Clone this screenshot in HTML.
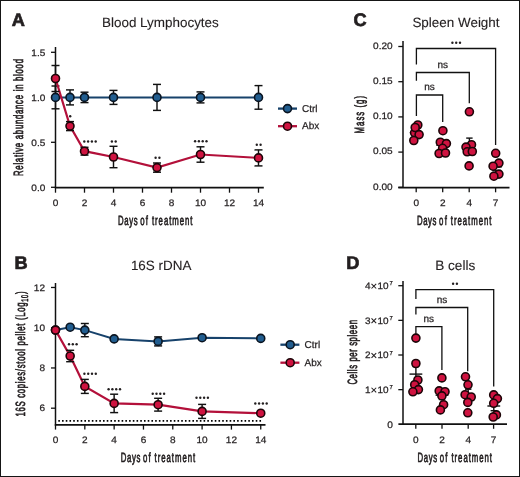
<!DOCTYPE html>
<html><head><meta charset="utf-8"><style>
html,body{margin:0;padding:0;background:#fff;}
#fig{position:relative;width:520px;height:477px;overflow:hidden;box-sizing:border-box;border:1px solid #151515;background:#fff;}
svg{position:absolute;left:-1px;top:-1px;will-change:transform;}
text{font-family:"Liberation Sans",sans-serif;stroke:#231f20;stroke-width:0.25px;text-rendering:geometricPrecision;}
</style></head><body><div id="fig">
<svg width="520" height="477" viewBox="0 0 520 477">
<text x="11.8" y="26.3" font-size="18.2" text-anchor="start" font-weight="bold" fill="#231f20" style="stroke-width:0.7px">A</text>
<text x="102.0" y="27" font-size="13.45" text-anchor="start" font-weight="normal" fill="#231f20" style="stroke-width:0.12px">Blood Lymphocytes</text>
<line x1="55.5" y1="47" x2="55.5" y2="188" stroke="#111111" stroke-width="1.5" />
<line x1="54.8" y1="187.6" x2="263.8" y2="187.6" stroke="#111111" stroke-width="1.8" />
<line x1="51" y1="52.30000000000001" x2="55.5" y2="52.30000000000001" stroke="#111111" stroke-width="1.3" />
<text transform="translate(45.3,55.500000000000014) scale(1.07,1)" font-size="9.4" text-anchor="end" fill="#231f20" stroke-width="0">1.5</text>
<line x1="51" y1="97.30000000000001" x2="55.5" y2="97.30000000000001" stroke="#111111" stroke-width="1.3" />
<text transform="translate(45.3,100.50000000000001) scale(1.07,1)" font-size="9.4" text-anchor="end" fill="#231f20" stroke-width="0">1.0</text>
<line x1="51" y1="142.3" x2="55.5" y2="142.3" stroke="#111111" stroke-width="1.3" />
<text transform="translate(45.3,145.5) scale(1.07,1)" font-size="9.4" text-anchor="end" fill="#231f20" stroke-width="0">0.5</text>
<line x1="51" y1="187.3" x2="55.5" y2="187.3" stroke="#111111" stroke-width="1.3" />
<text transform="translate(45.3,190.5) scale(1.07,1)" font-size="9.4" text-anchor="end" fill="#231f20" stroke-width="0">0.0</text>
<line x1="55.5" y1="187.5" x2="55.5" y2="192.7" stroke="#111111" stroke-width="1.3" />
<text transform="translate(55.5,205.5) scale(1.07,1)" font-size="9.4" text-anchor="middle" fill="#231f20" stroke-width="0">0</text>
<line x1="84.5" y1="187.5" x2="84.5" y2="192.7" stroke="#111111" stroke-width="1.3" />
<text transform="translate(84.5,205.5) scale(1.07,1)" font-size="9.4" text-anchor="middle" fill="#231f20" stroke-width="0">2</text>
<line x1="113.5" y1="187.5" x2="113.5" y2="192.7" stroke="#111111" stroke-width="1.3" />
<text transform="translate(113.5,205.5) scale(1.07,1)" font-size="9.4" text-anchor="middle" fill="#231f20" stroke-width="0">4</text>
<line x1="142.5" y1="187.5" x2="142.5" y2="192.7" stroke="#111111" stroke-width="1.3" />
<text transform="translate(142.5,205.5) scale(1.07,1)" font-size="9.4" text-anchor="middle" fill="#231f20" stroke-width="0">6</text>
<line x1="171.5" y1="187.5" x2="171.5" y2="192.7" stroke="#111111" stroke-width="1.3" />
<text transform="translate(171.5,205.5) scale(1.07,1)" font-size="9.4" text-anchor="middle" fill="#231f20" stroke-width="0">8</text>
<line x1="200.5" y1="187.5" x2="200.5" y2="192.7" stroke="#111111" stroke-width="1.3" />
<text transform="translate(200.5,205.5) scale(1.07,1)" font-size="9.4" text-anchor="middle" fill="#231f20" stroke-width="0">10</text>
<line x1="229.5" y1="187.5" x2="229.5" y2="192.7" stroke="#111111" stroke-width="1.3" />
<text transform="translate(229.5,205.5) scale(1.07,1)" font-size="9.4" text-anchor="middle" fill="#231f20" stroke-width="0">12</text>
<line x1="258.5" y1="187.5" x2="258.5" y2="192.7" stroke="#111111" stroke-width="1.3" />
<text transform="translate(258.5,205.5) scale(1.07,1)" font-size="9.4" text-anchor="middle" fill="#231f20" stroke-width="0">14</text>
<text transform="translate(118.0,224.6) scale(0.58,1)" font-size="13.4" fill="#231f20" textLength="33.79" lengthAdjust="spacing" style="stroke-width:0.7px">Days</text>
<text transform="translate(140.2,224.6) scale(0.58,1)" font-size="13.4" fill="#231f20" textLength="13.28" lengthAdjust="spacing" style="stroke-width:0.7px">of</text>
<text transform="translate(151.9,224.6) scale(0.58,1)" font-size="13.4" fill="#231f20" textLength="70.00" lengthAdjust="spacing" style="stroke-width:0.7px">treatment</text>
<text transform="translate(23,117.5) rotate(-90) scale(0.58,1)" x="0" y="0" font-size="13.4" text-anchor="middle" fill="#231f20" textLength="201.72" lengthAdjust="spacing" style="stroke-width:0.7px">Relative abundance in blood</text>
<polyline points="55.5,97.4 70.0,97.4 84.5,97.4 113.5,97.4 157.0,97.4 200.5,97.4 258.5,97.4" fill="none" stroke="#17426b" stroke-width="2.0"/>
<line x1="55.5" y1="86.0" x2="55.5" y2="108.80000000000001" stroke="#111111" stroke-width="1.45" />
<line x1="51.5" y1="86.0" x2="59.5" y2="86.0" stroke="#111111" stroke-width="1.45" />
<line x1="51.5" y1="108.80000000000001" x2="59.5" y2="108.80000000000001" stroke="#111111" stroke-width="1.45" />
<line x1="70.0" y1="89.9" x2="70.0" y2="104.9" stroke="#111111" stroke-width="1.45" />
<line x1="66.0" y1="89.9" x2="74.0" y2="89.9" stroke="#111111" stroke-width="1.45" />
<line x1="66.0" y1="104.9" x2="74.0" y2="104.9" stroke="#111111" stroke-width="1.45" />
<line x1="84.5" y1="92.2" x2="84.5" y2="102.60000000000001" stroke="#111111" stroke-width="1.45" />
<line x1="80.5" y1="92.2" x2="88.5" y2="92.2" stroke="#111111" stroke-width="1.45" />
<line x1="80.5" y1="102.60000000000001" x2="88.5" y2="102.60000000000001" stroke="#111111" stroke-width="1.45" />
<line x1="113.5" y1="90.4" x2="113.5" y2="104.4" stroke="#111111" stroke-width="1.45" />
<line x1="109.5" y1="90.4" x2="117.5" y2="90.4" stroke="#111111" stroke-width="1.45" />
<line x1="109.5" y1="104.4" x2="117.5" y2="104.4" stroke="#111111" stroke-width="1.45" />
<line x1="157.0" y1="84.4" x2="157.0" y2="110.4" stroke="#111111" stroke-width="1.45" />
<line x1="153.0" y1="84.4" x2="161.0" y2="84.4" stroke="#111111" stroke-width="1.45" />
<line x1="153.0" y1="110.4" x2="161.0" y2="110.4" stroke="#111111" stroke-width="1.45" />
<line x1="200.5" y1="91.9" x2="200.5" y2="102.9" stroke="#111111" stroke-width="1.45" />
<line x1="196.5" y1="91.9" x2="204.5" y2="91.9" stroke="#111111" stroke-width="1.45" />
<line x1="196.5" y1="102.9" x2="204.5" y2="102.9" stroke="#111111" stroke-width="1.45" />
<line x1="258.5" y1="85.60000000000001" x2="258.5" y2="109.2" stroke="#111111" stroke-width="1.45" />
<line x1="254.5" y1="85.60000000000001" x2="262.5" y2="85.60000000000001" stroke="#111111" stroke-width="1.45" />
<line x1="254.5" y1="109.2" x2="262.5" y2="109.2" stroke="#111111" stroke-width="1.45" />
<circle cx="55.5" cy="97.4" r="4.0" fill="#215d8f" stroke="#0a1420" stroke-width="1.6"/>
<circle cx="70.0" cy="97.4" r="4.0" fill="#215d8f" stroke="#0a1420" stroke-width="1.6"/>
<circle cx="84.5" cy="97.4" r="4.0" fill="#215d8f" stroke="#0a1420" stroke-width="1.6"/>
<circle cx="113.5" cy="97.4" r="4.0" fill="#215d8f" stroke="#0a1420" stroke-width="1.6"/>
<circle cx="157.0" cy="97.4" r="4.0" fill="#215d8f" stroke="#0a1420" stroke-width="1.6"/>
<circle cx="200.5" cy="97.4" r="4.0" fill="#215d8f" stroke="#0a1420" stroke-width="1.6"/>
<circle cx="258.5" cy="97.4" r="4.0" fill="#215d8f" stroke="#0a1420" stroke-width="1.6"/>
<polyline points="55.5,78.5 70.0,126.1 84.5,151.2 113.5,157 157.0,167.6 200.5,154.5 258.5,157.9" fill="none" stroke="#b3103a" stroke-width="2.2"/>
<line x1="55.5" y1="65.5" x2="55.5" y2="91.5" stroke="#111111" stroke-width="1.45" />
<line x1="51.5" y1="65.5" x2="59.5" y2="65.5" stroke="#111111" stroke-width="1.45" />
<line x1="51.5" y1="91.5" x2="59.5" y2="91.5" stroke="#111111" stroke-width="1.45" />
<line x1="70.0" y1="121.6" x2="70.0" y2="130.6" stroke="#111111" stroke-width="1.45" />
<line x1="66.0" y1="121.6" x2="74.0" y2="121.6" stroke="#111111" stroke-width="1.45" />
<line x1="66.0" y1="130.6" x2="74.0" y2="130.6" stroke="#111111" stroke-width="1.45" />
<line x1="84.5" y1="147.29999999999998" x2="84.5" y2="155.1" stroke="#111111" stroke-width="1.45" />
<line x1="80.5" y1="147.29999999999998" x2="88.5" y2="147.29999999999998" stroke="#111111" stroke-width="1.45" />
<line x1="80.5" y1="155.1" x2="88.5" y2="155.1" stroke="#111111" stroke-width="1.45" />
<line x1="113.5" y1="146.3" x2="113.5" y2="167.7" stroke="#111111" stroke-width="1.45" />
<line x1="109.5" y1="146.3" x2="117.5" y2="146.3" stroke="#111111" stroke-width="1.45" />
<line x1="109.5" y1="167.7" x2="117.5" y2="167.7" stroke="#111111" stroke-width="1.45" />
<line x1="157.0" y1="163.0" x2="157.0" y2="172.2" stroke="#111111" stroke-width="1.45" />
<line x1="153.0" y1="163.0" x2="161.0" y2="163.0" stroke="#111111" stroke-width="1.45" />
<line x1="153.0" y1="172.2" x2="161.0" y2="172.2" stroke="#111111" stroke-width="1.45" />
<line x1="200.5" y1="146.8" x2="200.5" y2="162.2" stroke="#111111" stroke-width="1.45" />
<line x1="196.5" y1="146.8" x2="204.5" y2="146.8" stroke="#111111" stroke-width="1.45" />
<line x1="196.5" y1="162.2" x2="204.5" y2="162.2" stroke="#111111" stroke-width="1.45" />
<line x1="258.5" y1="149.9" x2="258.5" y2="165.9" stroke="#111111" stroke-width="1.45" />
<line x1="254.5" y1="149.9" x2="262.5" y2="149.9" stroke="#111111" stroke-width="1.45" />
<line x1="254.5" y1="165.9" x2="262.5" y2="165.9" stroke="#111111" stroke-width="1.45" />
<circle cx="55.5" cy="78.5" r="4.0" fill="#cf1340" stroke="#1c0508" stroke-width="1.6"/>
<circle cx="70.0" cy="126.1" r="4.0" fill="#cf1340" stroke="#1c0508" stroke-width="1.6"/>
<circle cx="84.5" cy="151.2" r="4.0" fill="#cf1340" stroke="#1c0508" stroke-width="1.6"/>
<circle cx="113.5" cy="157" r="4.0" fill="#cf1340" stroke="#1c0508" stroke-width="1.6"/>
<circle cx="157.0" cy="167.6" r="4.0" fill="#cf1340" stroke="#1c0508" stroke-width="1.6"/>
<circle cx="200.5" cy="154.5" r="4.0" fill="#cf1340" stroke="#1c0508" stroke-width="1.6"/>
<circle cx="258.5" cy="157.9" r="4.0" fill="#cf1340" stroke="#1c0508" stroke-width="1.6"/>
<circle cx="70.20" cy="116.2" r="1.2" fill="#231f20"/>
<circle cx="84.30" cy="141.5" r="1.2" fill="#231f20"/>
<circle cx="88.10" cy="141.5" r="1.2" fill="#231f20"/>
<circle cx="91.90" cy="141.5" r="1.2" fill="#231f20"/>
<circle cx="95.70" cy="141.5" r="1.2" fill="#231f20"/>
<circle cx="111.90" cy="141.5" r="1.2" fill="#231f20"/>
<circle cx="115.70" cy="141.5" r="1.2" fill="#231f20"/>
<circle cx="155.60" cy="157.7" r="1.2" fill="#231f20"/>
<circle cx="159.40" cy="157.7" r="1.2" fill="#231f20"/>
<circle cx="195.10" cy="141.3" r="1.2" fill="#231f20"/>
<circle cx="198.90" cy="141.3" r="1.2" fill="#231f20"/>
<circle cx="202.70" cy="141.3" r="1.2" fill="#231f20"/>
<circle cx="206.50" cy="141.3" r="1.2" fill="#231f20"/>
<circle cx="256.80" cy="144.7" r="1.2" fill="#231f20"/>
<circle cx="260.60" cy="144.7" r="1.2" fill="#231f20"/>
<line x1="278" y1="108.6" x2="297" y2="108.6" stroke="#17426b" stroke-width="2.3" />
<circle cx="287.5" cy="108.6" r="4.0" fill="#215d8f" stroke="#0a1420" stroke-width="1.6"/>
<text x="302" y="111.5" font-size="10" text-anchor="start" font-weight="normal" fill="#231f20" >Ctrl</text>
<line x1="278" y1="126.2" x2="297" y2="126.2" stroke="#b3103a" stroke-width="2.3" />
<circle cx="287.5" cy="126.2" r="4.0" fill="#cf1340" stroke="#1c0508" stroke-width="1.6"/>
<text x="302" y="129.4" font-size="10" text-anchor="start" font-weight="normal" fill="#231f20" >Abx</text>
<text x="14.6" y="269.0" font-size="18.2" text-anchor="start" font-weight="bold" fill="#231f20" style="stroke-width:0.7px">B</text>
<text x="130.9" y="269.7" font-size="13.45" text-anchor="start" font-weight="normal" fill="#231f20" style="stroke-width:0.12px">16S rDNA</text>
<line x1="55.5" y1="283" x2="55.5" y2="425.5" stroke="#111111" stroke-width="1.5" />
<line x1="54.8" y1="424.8" x2="265.5" y2="424.8" stroke="#111111" stroke-width="1.8" />
<line x1="51" y1="287.48" x2="55.5" y2="287.48" stroke="#111111" stroke-width="1.3" />
<text transform="translate(45,290.58000000000004) scale(1.07,1)" font-size="9.4" text-anchor="end" fill="#231f20" stroke-width="0">12</text>
<line x1="51" y1="327.71999999999997" x2="55.5" y2="327.71999999999997" stroke="#111111" stroke-width="1.3" />
<text transform="translate(45,330.82) scale(1.07,1)" font-size="9.4" text-anchor="end" fill="#231f20" stroke-width="0">10</text>
<line x1="51" y1="367.96" x2="55.5" y2="367.96" stroke="#111111" stroke-width="1.3" />
<text transform="translate(45,371.06) scale(1.07,1)" font-size="9.4" text-anchor="end" fill="#231f20" stroke-width="0">8</text>
<line x1="51" y1="408.2" x2="55.5" y2="408.2" stroke="#111111" stroke-width="1.3" />
<text transform="translate(45,411.3) scale(1.07,1)" font-size="9.4" text-anchor="end" fill="#231f20" stroke-width="0">6</text>
<line x1="55.5" y1="424.8" x2="55.5" y2="429.6" stroke="#111111" stroke-width="1.3" />
<text transform="translate(55.5,443.4) scale(1.07,1)" font-size="9.4" text-anchor="middle" fill="#231f20" stroke-width="0">0</text>
<line x1="84.82" y1="424.8" x2="84.82" y2="429.6" stroke="#111111" stroke-width="1.3" />
<text transform="translate(84.82,443.4) scale(1.07,1)" font-size="9.4" text-anchor="middle" fill="#231f20" stroke-width="0">2</text>
<line x1="114.14" y1="424.8" x2="114.14" y2="429.6" stroke="#111111" stroke-width="1.3" />
<text transform="translate(114.14,443.4) scale(1.07,1)" font-size="9.4" text-anchor="middle" fill="#231f20" stroke-width="0">4</text>
<line x1="143.46" y1="424.8" x2="143.46" y2="429.6" stroke="#111111" stroke-width="1.3" />
<text transform="translate(143.46,443.4) scale(1.07,1)" font-size="9.4" text-anchor="middle" fill="#231f20" stroke-width="0">6</text>
<line x1="172.78" y1="424.8" x2="172.78" y2="429.6" stroke="#111111" stroke-width="1.3" />
<text transform="translate(172.78,443.4) scale(1.07,1)" font-size="9.4" text-anchor="middle" fill="#231f20" stroke-width="0">8</text>
<line x1="202.1" y1="424.8" x2="202.1" y2="429.6" stroke="#111111" stroke-width="1.3" />
<text transform="translate(202.1,443.4) scale(1.07,1)" font-size="9.4" text-anchor="middle" fill="#231f20" stroke-width="0">10</text>
<line x1="231.42000000000002" y1="424.8" x2="231.42000000000002" y2="429.6" stroke="#111111" stroke-width="1.3" />
<text transform="translate(231.42000000000002,443.4) scale(1.07,1)" font-size="9.4" text-anchor="middle" fill="#231f20" stroke-width="0">12</text>
<line x1="260.74" y1="424.8" x2="260.74" y2="429.6" stroke="#111111" stroke-width="1.3" />
<text transform="translate(260.74,443.4) scale(1.07,1)" font-size="9.4" text-anchor="middle" fill="#231f20" stroke-width="0">14</text>
<line x1="58.3" y1="420.9" x2="261.2" y2="420.9" stroke="#000" stroke-width="1.7" stroke-dasharray="1.6 2.125"/>
<text transform="translate(120.7,462.4) scale(0.58,1)" font-size="13.4" fill="#231f20" textLength="33.79" lengthAdjust="spacing" style="stroke-width:0.7px">Days</text>
<text transform="translate(142.9,462.4) scale(0.58,1)" font-size="13.4" fill="#231f20" textLength="13.28" lengthAdjust="spacing" style="stroke-width:0.7px">of</text>
<text transform="translate(154.6,462.4) scale(0.58,1)" font-size="13.4" fill="#231f20" textLength="70.00" lengthAdjust="spacing" style="stroke-width:0.7px">treatment</text>
<text transform="translate(25,354) rotate(-90) scale(0.58,1)" font-size="13.4" text-anchor="middle" fill="#231f20" textLength="215.52" lengthAdjust="spacing" style="stroke-width:0.7px">16S copies/stool pellet (Log<tspan font-size="9.6" dy="2.6">10</tspan><tspan dy="-2.6">)</tspan></text>
<polyline points="55.5,330 70.16,327.2 84.82,330.1 114.14,338.9 158.12,341.4 202.1,337.7 260.74,338.4" fill="none" stroke="#17426b" stroke-width="2.0"/>
<line x1="84.82" y1="323.5" x2="84.82" y2="336.70000000000005" stroke="#111111" stroke-width="1.45" />
<line x1="80.82" y1="323.5" x2="88.82" y2="323.5" stroke="#111111" stroke-width="1.45" />
<line x1="80.82" y1="336.70000000000005" x2="88.82" y2="336.70000000000005" stroke="#111111" stroke-width="1.45" />
<line x1="158.12" y1="336.9" x2="158.12" y2="345.9" stroke="#111111" stroke-width="1.45" />
<line x1="154.12" y1="336.9" x2="162.12" y2="336.9" stroke="#111111" stroke-width="1.45" />
<line x1="154.12" y1="345.9" x2="162.12" y2="345.9" stroke="#111111" stroke-width="1.45" />
<circle cx="55.5" cy="330" r="4.0" fill="#215d8f" stroke="#0a1420" stroke-width="1.6"/>
<circle cx="70.16" cy="327.2" r="4.0" fill="#215d8f" stroke="#0a1420" stroke-width="1.6"/>
<circle cx="84.82" cy="330.1" r="4.0" fill="#215d8f" stroke="#0a1420" stroke-width="1.6"/>
<circle cx="114.14" cy="338.9" r="4.0" fill="#215d8f" stroke="#0a1420" stroke-width="1.6"/>
<circle cx="158.12" cy="341.4" r="4.0" fill="#215d8f" stroke="#0a1420" stroke-width="1.6"/>
<circle cx="202.1" cy="337.7" r="4.0" fill="#215d8f" stroke="#0a1420" stroke-width="1.6"/>
<circle cx="260.74" cy="338.4" r="4.0" fill="#215d8f" stroke="#0a1420" stroke-width="1.6"/>
<polyline points="55.5,330.1 70.16,356 84.82,386.4 114.14,403.4 158.12,404.7 202.1,411.4 260.74,413.2" fill="none" stroke="#b3103a" stroke-width="2.2"/>
<line x1="70.16" y1="350.3" x2="70.16" y2="361.7" stroke="#111111" stroke-width="1.45" />
<line x1="66.16" y1="350.3" x2="74.16" y2="350.3" stroke="#111111" stroke-width="1.45" />
<line x1="66.16" y1="361.7" x2="74.16" y2="361.7" stroke="#111111" stroke-width="1.45" />
<line x1="84.82" y1="379.4" x2="84.82" y2="393.4" stroke="#111111" stroke-width="1.45" />
<line x1="80.82" y1="379.4" x2="88.82" y2="379.4" stroke="#111111" stroke-width="1.45" />
<line x1="80.82" y1="393.4" x2="88.82" y2="393.4" stroke="#111111" stroke-width="1.45" />
<line x1="114.14" y1="394.2" x2="114.14" y2="412.59999999999997" stroke="#111111" stroke-width="1.45" />
<line x1="110.14" y1="394.2" x2="118.14" y2="394.2" stroke="#111111" stroke-width="1.45" />
<line x1="110.14" y1="412.59999999999997" x2="118.14" y2="412.59999999999997" stroke="#111111" stroke-width="1.45" />
<line x1="158.12" y1="398.3" x2="158.12" y2="411.09999999999997" stroke="#111111" stroke-width="1.45" />
<line x1="154.12" y1="398.3" x2="162.12" y2="398.3" stroke="#111111" stroke-width="1.45" />
<line x1="154.12" y1="411.09999999999997" x2="162.12" y2="411.09999999999997" stroke="#111111" stroke-width="1.45" />
<line x1="202.1" y1="404.4" x2="202.1" y2="418.4" stroke="#111111" stroke-width="1.45" />
<line x1="198.1" y1="404.4" x2="206.1" y2="404.4" stroke="#111111" stroke-width="1.45" />
<line x1="198.1" y1="418.4" x2="206.1" y2="418.4" stroke="#111111" stroke-width="1.45" />
<circle cx="55.5" cy="330.1" r="4.0" fill="#cf1340" stroke="#1c0508" stroke-width="1.6"/>
<circle cx="70.16" cy="356" r="4.0" fill="#cf1340" stroke="#1c0508" stroke-width="1.6"/>
<circle cx="84.82" cy="386.4" r="4.0" fill="#cf1340" stroke="#1c0508" stroke-width="1.6"/>
<circle cx="114.14" cy="403.4" r="4.0" fill="#cf1340" stroke="#1c0508" stroke-width="1.6"/>
<circle cx="158.12" cy="404.7" r="4.0" fill="#cf1340" stroke="#1c0508" stroke-width="1.6"/>
<circle cx="202.1" cy="411.4" r="4.0" fill="#cf1340" stroke="#1c0508" stroke-width="1.6"/>
<circle cx="260.74" cy="413.2" r="4.0" fill="#cf1340" stroke="#1c0508" stroke-width="1.6"/>
<circle cx="69.00" cy="344.2" r="1.2" fill="#231f20"/>
<circle cx="72.80" cy="344.2" r="1.2" fill="#231f20"/>
<circle cx="76.60" cy="344.2" r="1.2" fill="#231f20"/>
<circle cx="84.40" cy="373.8" r="1.2" fill="#231f20"/>
<circle cx="88.20" cy="373.8" r="1.2" fill="#231f20"/>
<circle cx="92.00" cy="373.8" r="1.2" fill="#231f20"/>
<circle cx="95.80" cy="373.8" r="1.2" fill="#231f20"/>
<circle cx="108.60" cy="389.2" r="1.2" fill="#231f20"/>
<circle cx="112.40" cy="389.2" r="1.2" fill="#231f20"/>
<circle cx="116.20" cy="389.2" r="1.2" fill="#231f20"/>
<circle cx="120.00" cy="389.2" r="1.2" fill="#231f20"/>
<circle cx="152.70" cy="393.7" r="1.2" fill="#231f20"/>
<circle cx="156.50" cy="393.7" r="1.2" fill="#231f20"/>
<circle cx="160.30" cy="393.7" r="1.2" fill="#231f20"/>
<circle cx="164.10" cy="393.7" r="1.2" fill="#231f20"/>
<circle cx="196.50" cy="397.8" r="1.2" fill="#231f20"/>
<circle cx="200.30" cy="397.8" r="1.2" fill="#231f20"/>
<circle cx="204.10" cy="397.8" r="1.2" fill="#231f20"/>
<circle cx="207.90" cy="397.8" r="1.2" fill="#231f20"/>
<circle cx="255.30" cy="403.5" r="1.2" fill="#231f20"/>
<circle cx="259.10" cy="403.5" r="1.2" fill="#231f20"/>
<circle cx="262.90" cy="403.5" r="1.2" fill="#231f20"/>
<circle cx="266.70" cy="403.5" r="1.2" fill="#231f20"/>
<line x1="280.4" y1="344.7" x2="299.4" y2="344.7" stroke="#17426b" stroke-width="2.3" />
<circle cx="290.2" cy="344.7" r="4.0" fill="#215d8f" stroke="#0a1420" stroke-width="1.6"/>
<text x="304.6" y="347.9" font-size="10" text-anchor="start" font-weight="normal" fill="#231f20" >Ctrl</text>
<line x1="280.4" y1="362.7" x2="299.4" y2="362.7" stroke="#b3103a" stroke-width="2.3" />
<circle cx="290.2" cy="362.7" r="4.0" fill="#cf1340" stroke="#1c0508" stroke-width="1.6"/>
<text x="304.6" y="365.8" font-size="10" text-anchor="start" font-weight="normal" fill="#231f20" >Abx</text>
<text x="353.6" y="26.4" font-size="18.2" text-anchor="start" font-weight="bold" fill="#231f20" style="stroke-width:0.7px">C</text>
<text x="412.4" y="26.8" font-size="13.45" text-anchor="start" font-weight="normal" fill="#231f20" style="stroke-width:0.12px">Spleen Weight</text>
<line x1="403" y1="41" x2="403" y2="188" stroke="#111111" stroke-width="1.5" />
<line x1="398.3" y1="187.6" x2="509.5" y2="187.6" stroke="#111111" stroke-width="1.8" />
<line x1="398.3" y1="46.5" x2="403" y2="46.5" stroke="#111111" stroke-width="1.3" />
<text transform="translate(392.6,48.7) scale(1.07,1)" font-size="9.4" text-anchor="end" fill="#231f20" stroke-width="0">0.20</text>
<line x1="398.3" y1="81.70000000000002" x2="403" y2="81.70000000000002" stroke="#111111" stroke-width="1.3" />
<text transform="translate(392.6,83.90000000000002) scale(1.07,1)" font-size="9.4" text-anchor="end" fill="#231f20" stroke-width="0">0.15</text>
<line x1="398.3" y1="116.9" x2="403" y2="116.9" stroke="#111111" stroke-width="1.3" />
<text transform="translate(392.6,119.10000000000001) scale(1.07,1)" font-size="9.4" text-anchor="end" fill="#231f20" stroke-width="0">0.10</text>
<line x1="398.3" y1="152.10000000000002" x2="403" y2="152.10000000000002" stroke="#111111" stroke-width="1.3" />
<text transform="translate(392.6,154.3) scale(1.07,1)" font-size="9.4" text-anchor="end" fill="#231f20" stroke-width="0">0.05</text>
<line x1="398.3" y1="187.3" x2="403" y2="187.3" stroke="#111111" stroke-width="1.3" />
<text transform="translate(392.6,189.5) scale(1.07,1)" font-size="9.4" text-anchor="end" fill="#231f20" stroke-width="0">0.00</text>
<line x1="416.2" y1="187.5" x2="416.2" y2="192.3" stroke="#111111" stroke-width="1.3" />
<text transform="translate(416.2,205.5) scale(1.07,1)" font-size="9.4" text-anchor="middle" fill="#231f20" stroke-width="0">0</text>
<line x1="442.7" y1="187.5" x2="442.7" y2="192.3" stroke="#111111" stroke-width="1.3" />
<text transform="translate(442.7,205.5) scale(1.07,1)" font-size="9.4" text-anchor="middle" fill="#231f20" stroke-width="0">2</text>
<line x1="469.2" y1="187.5" x2="469.2" y2="192.3" stroke="#111111" stroke-width="1.3" />
<text transform="translate(469.2,205.5) scale(1.07,1)" font-size="9.4" text-anchor="middle" fill="#231f20" stroke-width="0">4</text>
<line x1="495.6" y1="187.5" x2="495.6" y2="192.3" stroke="#111111" stroke-width="1.3" />
<text transform="translate(495.6,205.5) scale(1.07,1)" font-size="9.4" text-anchor="middle" fill="#231f20" stroke-width="0">7</text>
<text transform="translate(416.9,224.5) scale(0.58,1)" font-size="13.4" fill="#231f20" textLength="33.79" lengthAdjust="spacing" style="stroke-width:0.7px">Days</text>
<text transform="translate(439.09999999999997,224.5) scale(0.58,1)" font-size="13.4" fill="#231f20" textLength="13.28" lengthAdjust="spacing" style="stroke-width:0.7px">of</text>
<text transform="translate(450.79999999999995,224.5) scale(0.58,1)" font-size="13.4" fill="#231f20" textLength="70.00" lengthAdjust="spacing" style="stroke-width:0.7px">treatment</text>
<text transform="translate(364,114.7) rotate(-90) scale(0.58,1)" x="0" y="0" font-size="13.4" text-anchor="middle" fill="#231f20" textLength="64.66" lengthAdjust="spacing" style="stroke-width:0.7px">Mass (g)</text>
<polyline points="416.4,64.4 416.4,48.5 495.6,48.5 495.6,145" fill="none" stroke="#111111" stroke-width="1.3"/>
<polyline points="416.4,80.8 416.4,72.5 469.3,72.5 469.3,103.2" fill="none" stroke="#111111" stroke-width="1.3"/>
<polyline points="416.4,116 416.4,95 442.7,95 442.7,122" fill="none" stroke="#111111" stroke-width="1.3"/>
<circle cx="452.40" cy="42.8" r="1.2" fill="#231f20"/>
<circle cx="456.20" cy="42.8" r="1.2" fill="#231f20"/>
<circle cx="460.00" cy="42.8" r="1.2" fill="#231f20"/>
<text x="442.8" y="67.9" font-size="10" text-anchor="middle" font-weight="normal" fill="#231f20" stroke-width="0.05" >ns</text>
<text x="429.6" y="90.4" font-size="10" text-anchor="middle" font-weight="normal" fill="#231f20" stroke-width="0.05" >ns</text>
<line x1="409.8" y1="132.6" x2="422.59999999999997" y2="132.6" stroke="#111111" stroke-width="1.4" />
<line x1="416.2" y1="129" x2="416.2" y2="132.6" stroke="#111111" stroke-width="1.4" />
<line x1="413.0" y1="129" x2="419.4" y2="129" stroke="#111111" stroke-width="1.4" />
<line x1="416.2" y1="132.6" x2="416.2" y2="136" stroke="#111111" stroke-width="1.4" />
<line x1="413.0" y1="136" x2="419.4" y2="136" stroke="#111111" stroke-width="1.4" />
<line x1="436.3" y1="145.2" x2="449.09999999999997" y2="145.2" stroke="#111111" stroke-width="1.4" />
<line x1="442.7" y1="141.5" x2="442.7" y2="145.2" stroke="#111111" stroke-width="1.4" />
<line x1="439.5" y1="141.5" x2="445.9" y2="141.5" stroke="#111111" stroke-width="1.4" />
<line x1="442.7" y1="145.2" x2="442.7" y2="149" stroke="#111111" stroke-width="1.4" />
<line x1="439.5" y1="149" x2="445.9" y2="149" stroke="#111111" stroke-width="1.4" />
<line x1="463.0" y1="145.5" x2="475.79999999999995" y2="145.5" stroke="#111111" stroke-width="1.4" />
<line x1="469.4" y1="138.1" x2="469.4" y2="145.5" stroke="#111111" stroke-width="1.4" />
<line x1="466.2" y1="138.1" x2="472.59999999999997" y2="138.1" stroke="#111111" stroke-width="1.4" />
<line x1="469.4" y1="145.5" x2="469.4" y2="152.9" stroke="#111111" stroke-width="1.4" />
<line x1="466.2" y1="152.9" x2="472.59999999999997" y2="152.9" stroke="#111111" stroke-width="1.4" />
<line x1="489.20000000000005" y1="166.8" x2="502.0" y2="166.8" stroke="#111111" stroke-width="1.4" />
<line x1="495.6" y1="162.8" x2="495.6" y2="166.8" stroke="#111111" stroke-width="1.4" />
<line x1="492.40000000000003" y1="162.8" x2="498.8" y2="162.8" stroke="#111111" stroke-width="1.4" />
<line x1="495.6" y1="166.8" x2="495.6" y2="170.8" stroke="#111111" stroke-width="1.4" />
<line x1="492.40000000000003" y1="170.8" x2="498.8" y2="170.8" stroke="#111111" stroke-width="1.4" />
<circle cx="414.6" cy="132.8" r="4.0" fill="#cf1340" stroke="#1c0508" stroke-width="1.6"/>
<circle cx="417.8" cy="125.0" r="4.0" fill="#cf1340" stroke="#1c0508" stroke-width="1.6"/>
<circle cx="415.2" cy="127.5" r="4.0" fill="#cf1340" stroke="#1c0508" stroke-width="1.6"/>
<circle cx="419.1" cy="134.6" r="4.0" fill="#cf1340" stroke="#1c0508" stroke-width="1.6"/>
<circle cx="413.8" cy="140.5" r="4.0" fill="#cf1340" stroke="#1c0508" stroke-width="1.6"/>
<circle cx="442.9" cy="130.7" r="4.0" fill="#cf1340" stroke="#1c0508" stroke-width="1.6"/>
<circle cx="440.3" cy="142.2" r="4.0" fill="#cf1340" stroke="#1c0508" stroke-width="1.6"/>
<circle cx="446.4" cy="143.6" r="4.0" fill="#cf1340" stroke="#1c0508" stroke-width="1.6"/>
<circle cx="442.6" cy="148.3" r="4.0" fill="#cf1340" stroke="#1c0508" stroke-width="1.6"/>
<circle cx="439.1" cy="153.5" r="4.0" fill="#cf1340" stroke="#1c0508" stroke-width="1.6"/>
<circle cx="445.5" cy="153" r="4.0" fill="#cf1340" stroke="#1c0508" stroke-width="1.6"/>
<circle cx="469.4" cy="111.8" r="4.0" fill="#cf1340" stroke="#1c0508" stroke-width="1.6"/>
<circle cx="471.5" cy="144.7" r="4.0" fill="#cf1340" stroke="#1c0508" stroke-width="1.6"/>
<circle cx="466" cy="147.1" r="4.0" fill="#cf1340" stroke="#1c0508" stroke-width="1.6"/>
<circle cx="467.2" cy="151.8" r="4.0" fill="#cf1340" stroke="#1c0508" stroke-width="1.6"/>
<circle cx="472.3" cy="151.5" r="4.0" fill="#cf1340" stroke="#1c0508" stroke-width="1.6"/>
<circle cx="469.1" cy="165.9" r="4.0" fill="#cf1340" stroke="#1c0508" stroke-width="1.6"/>
<circle cx="495.7" cy="153.3" r="4.0" fill="#cf1340" stroke="#1c0508" stroke-width="1.6"/>
<circle cx="498.9" cy="163.1" r="4.0" fill="#cf1340" stroke="#1c0508" stroke-width="1.6"/>
<circle cx="493.1" cy="166.2" r="4.0" fill="#cf1340" stroke="#1c0508" stroke-width="1.6"/>
<circle cx="498.9" cy="174.1" r="4.0" fill="#cf1340" stroke="#1c0508" stroke-width="1.6"/>
<circle cx="493.9" cy="176.2" r="4.0" fill="#cf1340" stroke="#1c0508" stroke-width="1.6"/>
<text x="346.2" y="269.0" font-size="18.2" text-anchor="start" font-weight="bold" fill="#231f20" style="stroke-width:0.7px">D</text>
<text x="435.2" y="269.5" font-size="13.6" text-anchor="start" font-weight="normal" fill="#231f20" style="stroke-width:0.12px">B cells</text>
<line x1="403" y1="281" x2="403" y2="425" stroke="#111111" stroke-width="1.5" />
<line x1="398.4" y1="424.1" x2="507" y2="424.1" stroke="#111111" stroke-width="1.8" />
<line x1="398.3" y1="285.70000000000005" x2="403" y2="285.70000000000005" stroke="#111111" stroke-width="1.3" />
<text transform="translate(365.0,288.90000000000003) scale(1.07,1)" font-size="9.3" text-anchor="start" fill="#231f20" stroke-width="0">4</text>
<path d="M371.5,283.8 l4.7,4.7 M371.5,288.5 l4.7,-4.7" stroke="#231f20" stroke-width="1.05" fill="none"/>
<text transform="translate(377.4,288.90000000000003) scale(1.07,1)" font-size="9.3" text-anchor="start" fill="#231f20" stroke-width="0">10</text>
<text x="389.4" y="285.20000000000005" font-size="5.8" fill="#231f20" stroke-width="0.1">7</text>
<line x1="398.3" y1="320.35" x2="403" y2="320.35" stroke="#111111" stroke-width="1.3" />
<text transform="translate(365.0,323.55) scale(1.07,1)" font-size="9.3" text-anchor="start" fill="#231f20" stroke-width="0">3</text>
<path d="M371.5,318.45 l4.7,4.7 M371.5,323.15 l4.7,-4.7" stroke="#231f20" stroke-width="1.05" fill="none"/>
<text transform="translate(377.4,323.55) scale(1.07,1)" font-size="9.3" text-anchor="start" fill="#231f20" stroke-width="0">10</text>
<text x="389.4" y="319.85" font-size="5.8" fill="#231f20" stroke-width="0.1">7</text>
<line x1="398.3" y1="355.0" x2="403" y2="355.0" stroke="#111111" stroke-width="1.3" />
<text transform="translate(365.0,358.2) scale(1.07,1)" font-size="9.3" text-anchor="start" fill="#231f20" stroke-width="0">2</text>
<path d="M371.5,353.09999999999997 l4.7,4.7 M371.5,357.79999999999995 l4.7,-4.7" stroke="#231f20" stroke-width="1.05" fill="none"/>
<text transform="translate(377.4,358.2) scale(1.07,1)" font-size="9.3" text-anchor="start" fill="#231f20" stroke-width="0">10</text>
<text x="389.4" y="354.5" font-size="5.8" fill="#231f20" stroke-width="0.1">7</text>
<line x1="398.3" y1="389.65000000000003" x2="403" y2="389.65000000000003" stroke="#111111" stroke-width="1.3" />
<text transform="translate(365.0,392.85) scale(1.07,1)" font-size="9.3" text-anchor="start" fill="#231f20" stroke-width="0">1</text>
<path d="M371.5,387.75 l4.7,4.7 M371.5,392.45 l4.7,-4.7" stroke="#231f20" stroke-width="1.05" fill="none"/>
<text transform="translate(377.4,392.85) scale(1.07,1)" font-size="9.3" text-anchor="start" fill="#231f20" stroke-width="0">10</text>
<text x="389.4" y="389.15000000000003" font-size="5.8" fill="#231f20" stroke-width="0.1">7</text>
<text transform="translate(392.9,427.5) scale(1.07,1)" font-size="9.5" text-anchor="end" fill="#231f20" stroke-width="0">0</text>
<line x1="415.8" y1="424.1" x2="415.8" y2="428.8" stroke="#111111" stroke-width="1.3" />
<text transform="translate(415.8,443.1) scale(1.07,1)" font-size="9.4" text-anchor="middle" fill="#231f20" stroke-width="0">0</text>
<line x1="442" y1="424.1" x2="442" y2="428.8" stroke="#111111" stroke-width="1.3" />
<text transform="translate(442,443.1) scale(1.07,1)" font-size="9.4" text-anchor="middle" fill="#231f20" stroke-width="0">2</text>
<line x1="468.2" y1="424.1" x2="468.2" y2="428.8" stroke="#111111" stroke-width="1.3" />
<text transform="translate(468.2,443.1) scale(1.07,1)" font-size="9.4" text-anchor="middle" fill="#231f20" stroke-width="0">4</text>
<line x1="493.6" y1="424.1" x2="493.6" y2="428.8" stroke="#111111" stroke-width="1.3" />
<text transform="translate(493.6,443.1) scale(1.07,1)" font-size="9.4" text-anchor="middle" fill="#231f20" stroke-width="0">7</text>
<text transform="translate(417.5,462.2) scale(0.58,1)" font-size="13.4" fill="#231f20" textLength="33.79" lengthAdjust="spacing" style="stroke-width:0.7px">Days</text>
<text transform="translate(439.7,462.2) scale(0.58,1)" font-size="13.4" fill="#231f20" textLength="13.28" lengthAdjust="spacing" style="stroke-width:0.7px">of</text>
<text transform="translate(451.4,462.2) scale(0.58,1)" font-size="13.4" fill="#231f20" textLength="70.00" lengthAdjust="spacing" style="stroke-width:0.7px">treatment</text>
<text transform="translate(357.3,352.3) rotate(-90) scale(0.58,1)" x="0" y="0" font-size="13.4" text-anchor="middle" fill="#231f20" textLength="111.38" lengthAdjust="spacing" style="stroke-width:0.7px">Cells per spleen</text>
<polyline points="415.9,299 415.9,289.6 493.7,289.6 493.7,386.5" fill="none" stroke="#111111" stroke-width="1.3"/>
<polyline points="415.9,314.5 415.9,307.5 467.7,307.5 467.7,371.2" fill="none" stroke="#111111" stroke-width="1.3"/>
<polyline points="415.9,334 415.9,326.6 441.9,326.6 441.9,370" fill="none" stroke="#111111" stroke-width="1.3"/>
<circle cx="453.10" cy="283.8" r="1.2" fill="#231f20"/>
<circle cx="456.90" cy="283.8" r="1.2" fill="#231f20"/>
<text x="442" y="302.9" font-size="10" text-anchor="middle" font-weight="normal" fill="#231f20" stroke-width="0.05" >ns</text>
<text x="428.7" y="321.9" font-size="10" text-anchor="middle" font-weight="normal" fill="#231f20" stroke-width="0.05" >ns</text>
<line x1="409.5" y1="374.1" x2="422.29999999999995" y2="374.1" stroke="#111111" stroke-width="1.4" />
<line x1="415.9" y1="366.5" x2="415.9" y2="374.1" stroke="#111111" stroke-width="1.4" />
<line x1="412.7" y1="366.5" x2="419.09999999999997" y2="366.5" stroke="#111111" stroke-width="1.4" />
<line x1="415.9" y1="374.1" x2="415.9" y2="381.5" stroke="#111111" stroke-width="1.4" />
<line x1="412.7" y1="381.5" x2="419.09999999999997" y2="381.5" stroke="#111111" stroke-width="1.4" />
<line x1="435.6" y1="395.2" x2="448.4" y2="395.2" stroke="#111111" stroke-width="1.4" />
<line x1="442" y1="391" x2="442" y2="395.2" stroke="#111111" stroke-width="1.4" />
<line x1="438.8" y1="391" x2="445.2" y2="391" stroke="#111111" stroke-width="1.4" />
<line x1="442" y1="395.2" x2="442" y2="399.5" stroke="#111111" stroke-width="1.4" />
<line x1="438.8" y1="399.5" x2="445.2" y2="399.5" stroke="#111111" stroke-width="1.4" />
<line x1="461.8" y1="394.8" x2="474.59999999999997" y2="394.8" stroke="#111111" stroke-width="1.4" />
<line x1="468.2" y1="389.2" x2="468.2" y2="394.8" stroke="#111111" stroke-width="1.4" />
<line x1="465.0" y1="389.2" x2="471.4" y2="389.2" stroke="#111111" stroke-width="1.4" />
<line x1="468.2" y1="394.8" x2="468.2" y2="400.3" stroke="#111111" stroke-width="1.4" />
<line x1="465.0" y1="400.3" x2="471.4" y2="400.3" stroke="#111111" stroke-width="1.4" />
<line x1="487.40000000000003" y1="406" x2="500.2" y2="406" stroke="#111111" stroke-width="1.4" />
<line x1="493.8" y1="401.3" x2="493.8" y2="406" stroke="#111111" stroke-width="1.4" />
<line x1="490.6" y1="401.3" x2="497.0" y2="401.3" stroke="#111111" stroke-width="1.4" />
<line x1="493.8" y1="406" x2="493.8" y2="410.7" stroke="#111111" stroke-width="1.4" />
<line x1="490.6" y1="410.7" x2="497.0" y2="410.7" stroke="#111111" stroke-width="1.4" />
<circle cx="415.9" cy="338.1" r="4.0" fill="#cf1340" stroke="#1c0508" stroke-width="1.6"/>
<circle cx="415.9" cy="363.5" r="4.0" fill="#cf1340" stroke="#1c0508" stroke-width="1.6"/>
<circle cx="417.9" cy="380" r="4.0" fill="#cf1340" stroke="#1c0508" stroke-width="1.6"/>
<circle cx="414.7" cy="384.7" r="4.0" fill="#cf1340" stroke="#1c0508" stroke-width="1.6"/>
<circle cx="418.4" cy="389.6" r="4.0" fill="#cf1340" stroke="#1c0508" stroke-width="1.6"/>
<circle cx="412.9" cy="391.8" r="4.0" fill="#cf1340" stroke="#1c0508" stroke-width="1.6"/>
<circle cx="441.9" cy="377.9" r="4.0" fill="#cf1340" stroke="#1c0508" stroke-width="1.6"/>
<circle cx="439.2" cy="390.9" r="4.0" fill="#cf1340" stroke="#1c0508" stroke-width="1.6"/>
<circle cx="445" cy="391.7" r="4.0" fill="#cf1340" stroke="#1c0508" stroke-width="1.6"/>
<circle cx="441.9" cy="395.9" r="4.0" fill="#cf1340" stroke="#1c0508" stroke-width="1.6"/>
<circle cx="443.6" cy="404.7" r="4.0" fill="#cf1340" stroke="#1c0508" stroke-width="1.6"/>
<circle cx="440.4" cy="409.9" r="4.0" fill="#cf1340" stroke="#1c0508" stroke-width="1.6"/>
<circle cx="465.5" cy="376.8" r="4.0" fill="#cf1340" stroke="#1c0508" stroke-width="1.6"/>
<circle cx="468" cy="384.8" r="4.0" fill="#cf1340" stroke="#1c0508" stroke-width="1.6"/>
<circle cx="465.1" cy="394.7" r="4.0" fill="#cf1340" stroke="#1c0508" stroke-width="1.6"/>
<circle cx="471.2" cy="397" r="4.0" fill="#cf1340" stroke="#1c0508" stroke-width="1.6"/>
<circle cx="467.8" cy="402.4" r="4.0" fill="#cf1340" stroke="#1c0508" stroke-width="1.6"/>
<circle cx="467.8" cy="412.8" r="4.0" fill="#cf1340" stroke="#1c0508" stroke-width="1.6"/>
<circle cx="493.7" cy="394.9" r="4.0" fill="#cf1340" stroke="#1c0508" stroke-width="1.6"/>
<circle cx="497.4" cy="398.6" r="4.0" fill="#cf1340" stroke="#1c0508" stroke-width="1.6"/>
<circle cx="493.7" cy="403.3" r="4.0" fill="#cf1340" stroke="#1c0508" stroke-width="1.6"/>
<circle cx="496.4" cy="414.9" r="4.0" fill="#cf1340" stroke="#1c0508" stroke-width="1.6"/>
<circle cx="493.2" cy="417" r="4.0" fill="#cf1340" stroke="#1c0508" stroke-width="1.6"/>
</svg></div></body></html>
